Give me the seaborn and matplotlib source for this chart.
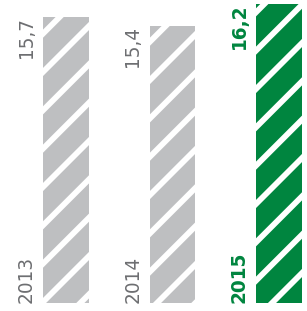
import matplotlib
matplotlib.use('Agg')
from matplotlib import pyplot as plt
import seaborn as sns

years = ['2013', '2014', '2015']
values = [15.7, 15.4, 16.2]
labels = ['15,7', '15,4', '16,2']
bar_colors = ['#bebfc1', '#bebfc1', '#00853f']
text_colors = ['#6d6e71', '#6d6e71', '#00853f']
weights = ['normal', 'normal', 'bold']

DPI = 230
sns.set_style('white')
plt.rcParams['font.family'] = ['DejaVu Sans']
plt.rcParams['hatch.linewidth'] = 1.8

fig = plt.figure(figsize=(307 / DPI, 311 / DPI), dpi=DPI)
ax = fig.add_axes([0, 8 / 311, 1, 1 - 8 / 311])

sns.barplot(x=years, y=values, hue=years, palette=bar_colors, legend=False,
            width=0.43, saturation=1, ax=ax)

# white diagonal stripes on every bar
for p in ax.patches:
    p.set_hatch('//')
    p.set_edgecolor('white')
    p.set_linewidth(0)

ax.set_xlim(-0.62, 2.263)
ax.set_ylim(5.14, 16.346)
ax.axis('off')

half = 0.43 / 2
for i in range(len(years)):
    xl = i - half - 0.07
    ax.text(xl, values[i], labels[i], rotation=90, ha='right', va='top',
            color=text_colors[i], fontsize=5.8, fontweight=weights[i])
    ax.text(xl, 5.14, years[i], rotation=90, ha='right', va='bottom',
            color=text_colors[i], fontsize=5.8, fontweight=weights[i])

fig.savefig('out.png', dpi=DPI)
